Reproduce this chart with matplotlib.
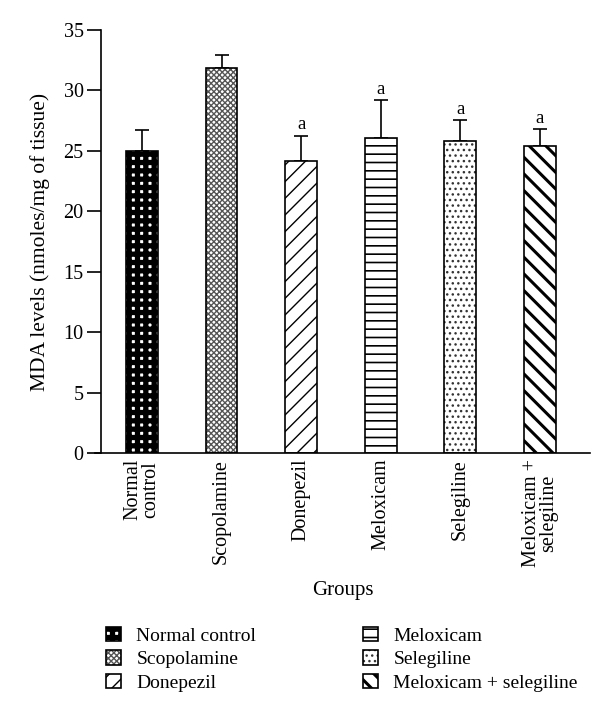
import matplotlib

matplotlib.use("Agg")
import matplotlib.pyplot as plt
from matplotlib.patches import Patch, Rectangle

groups = ["Normal\ncontrol", "Scopolamine", "Donepezil", "Meloxicam",
          "Selegiline", "Meloxicam +\nselegiline"]
legend_names = ["Normal control", "Scopolamine", "Donepezil", "Meloxicam",
                "Selegiline", "Meloxicam + selegiline"]
mda = [25.0, 31.9, 24.2, 26.1, 25.8, 25.4]
sem = [1.7, 1.0, 2.05, 3.1, 1.75, 1.4]
marks = ["", "", "a", "a", "a", "a"]

hatches = ["++", "xxxxxx", "//", "--", "...", "\\\\"]
faces = ["white", "white", "white", "white", "white", "white"]
hcolors = ["black", "#555555", "black", "black", "#333333", "black"]
hwidths = [3.8, 1.0, 1.0, 1.2, 1.0, 2.2]

plt.rcParams["font.family"] = ["Liberation Serif", "DejaVu Serif"]
plt.rcParams["hatch.linewidth"] = 1.0

fig = plt.figure(figsize=(6, 7.15), dpi=100)
ax = fig.add_axes([0.1583, 0.366, 0.825, 0.592])

x = list(range(len(groups)))
# hatch layer (edgecolor drives hatch colour), then outline on top
bars = ax.bar(x, mda, width=0.4, color=faces, edgecolor=hcolors,
              hatch=hatches, linewidth=0, zorder=2)
for b, w in zip(bars, hwidths):
    if hasattr(b, "set_hatch_linewidth"):
        b.set_hatch_linewidth(w)
ax.bar(x, mda, width=0.4, fill=False, edgecolor="black", linewidth=1.2,
       zorder=3)
ax.errorbar(x, mda, yerr=[[0] * len(sem), sem], fmt="none", ecolor="black",
            elinewidth=1.2, capsize=4.7, capthick=1.2, zorder=1)
for xi, m, s, t in zip(x, mda, sem, marks):
    if t:
        ax.text(xi, m + s + 0.2, t, ha="center", va="bottom", fontsize=13.5)

ax.set_xlim(-0.59, 5.63)
ax.set_ylim(0, 35)
ax.set_yticks(range(0, 36, 5))
ax.set_xticks(x)
ax.set_xticklabels(groups, rotation=90, fontsize=14.5, va="top",
                   ha="center", multialignment="center", linespacing=0.9)
ax.tick_params(axis="x", length=0, pad=4)
ax.tick_params(axis="y", length=10, width=1.2, labelsize=14.5, pad=2.5)
for side in ["top", "right"]:
    ax.spines[side].set_visible(False)
for side in ["left", "bottom"]:
    ax.spines[side].set_linewidth(1.2)
ax.spines["left"].set_position(("outward", -4.3))
ax.set_ylabel("MDA levels (nmoles/mg of tissue)", fontsize=15.5, labelpad=10)
ax.set_xlabel("Groups", fontsize=15, labelpad=10)

handles = []
for f, h, ht in zip(faces, hcolors, hatches):
    p = Patch(facecolor=f, edgecolor=h, hatch=ht, linewidth=0)
    handles.append((p, Patch(fill=False, edgecolor="black", linewidth=1.2)))
leg = fig.legend(handles, legend_names, loc="upper left",
                 bbox_to_anchor=(0.148, 0.148), ncol=2, frameon=False,
                 fontsize=14, handlelength=0.75, handleheight=0.75,
                 handletextpad=0.8, columnspacing=5.5, labelspacing=0.3)
# legend copies don't keep the per-patch hatch width, so set it again
hw = dict(zip(hatches, hwidths))
for r in leg.findobj(Rectangle):
    if r.get_hatch() in hw and hasattr(r, "set_hatch_linewidth"):
        r.set_hatch_linewidth(hw[r.get_hatch()])

fig.savefig("out.png", dpi=100)
